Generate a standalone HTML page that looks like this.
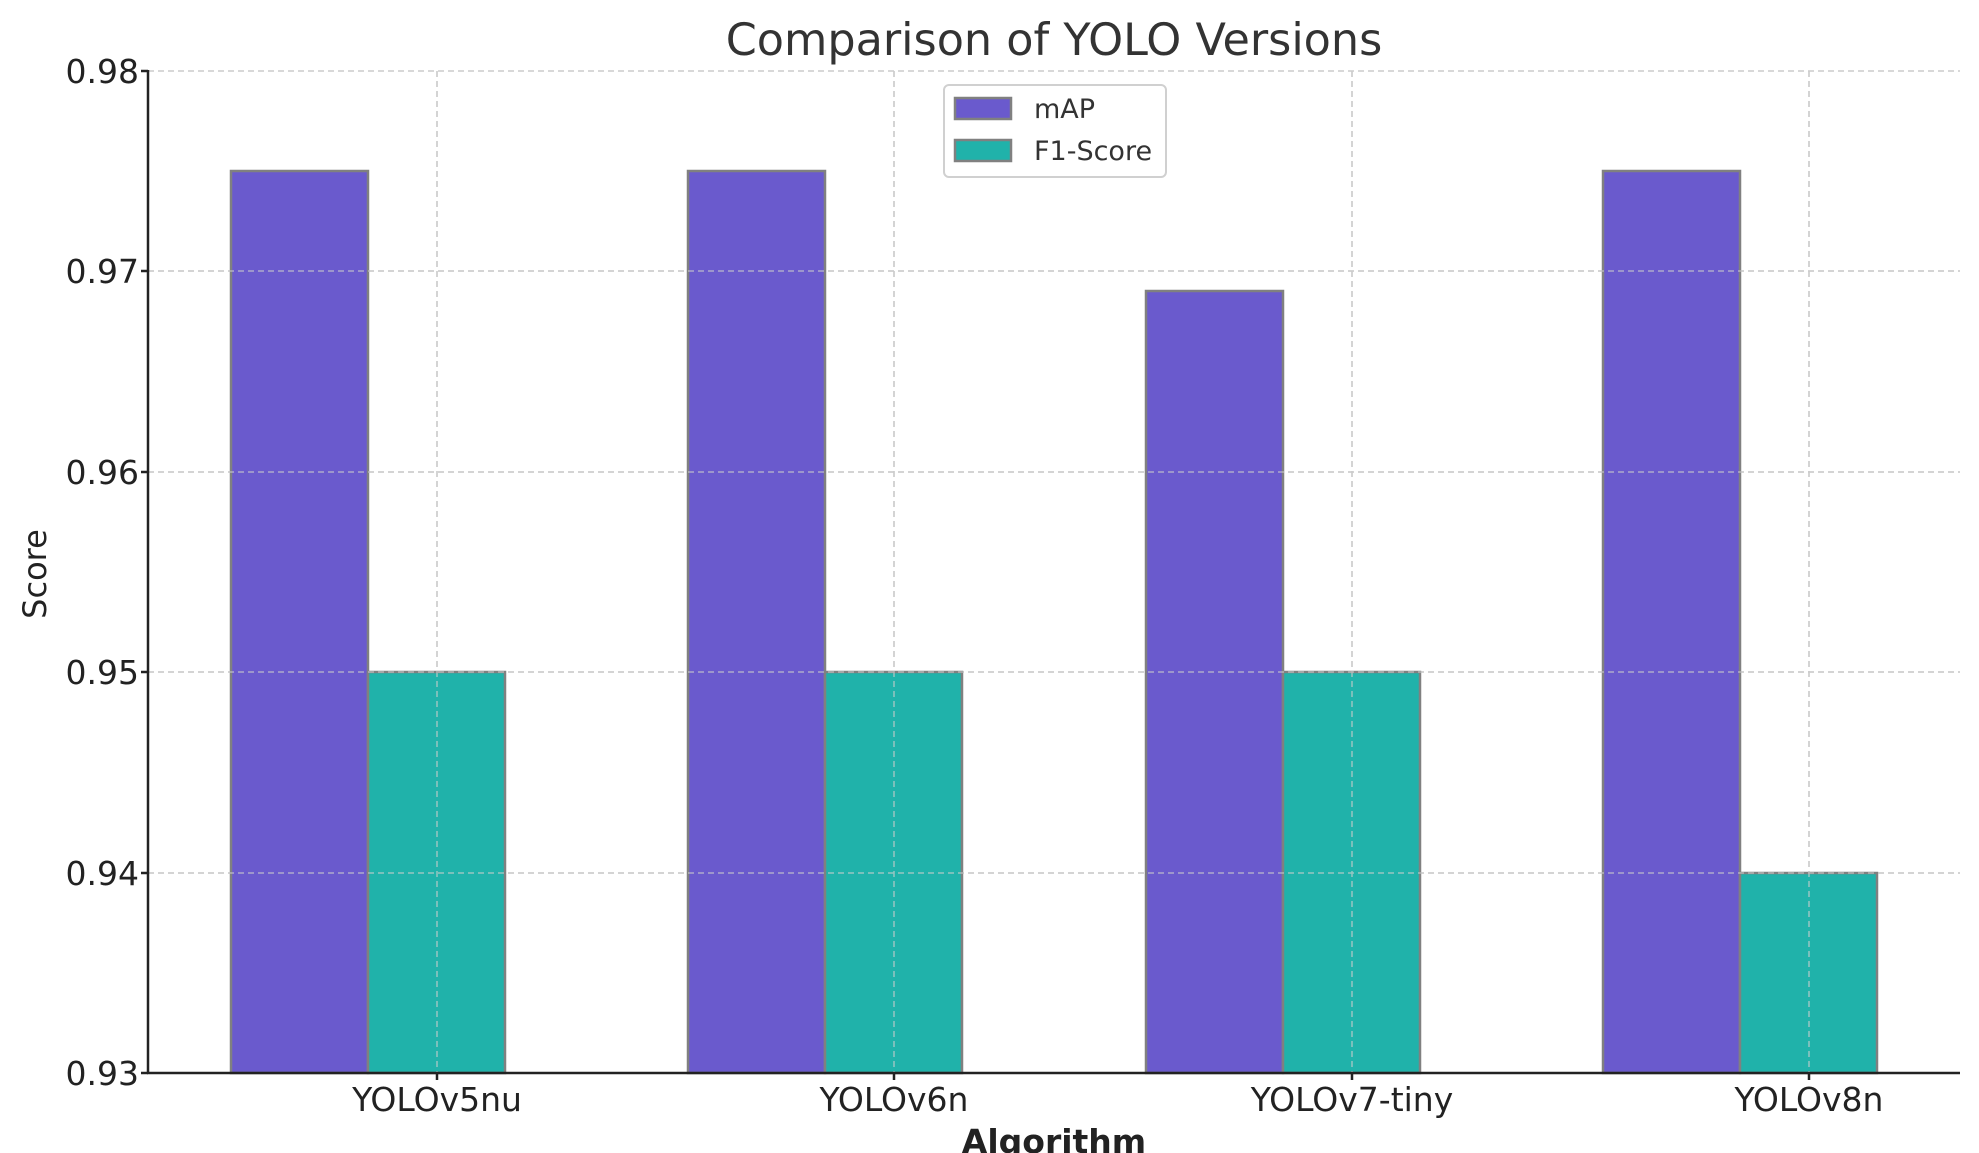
<!DOCTYPE html>
<html><head><meta charset="utf-8"><style>
html,body{margin:0;padding:0;background:#fff;}
svg{display:block;font-family:"DejaVu Sans","Liberation Sans",sans-serif;}
</style></head><body>
<svg width="1979" height="1153" viewBox="0 0 1979 1153" xmlns="http://www.w3.org/2000/svg">
<rect width="1979" height="1153" fill="#fff"/>
<g stroke="#cccccc" stroke-width="1.5" stroke-dasharray="6,4" fill="none">
<line x1="148" y1="71" x2="1960" y2="71"/>
<line x1="148" y1="271" x2="1960" y2="271"/>
<line x1="148" y1="472" x2="1960" y2="472"/>
<line x1="148" y1="672" x2="1960" y2="672"/>
<line x1="148" y1="873" x2="1960" y2="873"/>
<line x1="437" y1="71" x2="437" y2="1073"/>
<line x1="894" y1="71" x2="894" y2="1073"/>
<line x1="1352" y1="71" x2="1352" y2="1073"/>
<line x1="1809" y1="71" x2="1809" y2="1073"/>
</g>
<g stroke="#808080" stroke-width="2.5">
<rect x="231" y="171" width="137" height="902" fill="#6a5acd"/>
<rect x="368" y="672" width="137" height="401" fill="#20b2aa"/>
<rect x="688" y="171" width="137" height="902" fill="#6a5acd"/>
<rect x="825" y="672" width="137" height="401" fill="#20b2aa"/>
<rect x="1146" y="291" width="137" height="782" fill="#6a5acd"/>
<rect x="1283" y="672" width="137" height="401" fill="#20b2aa"/>
<rect x="1603" y="171" width="137" height="902" fill="#6a5acd"/>
<rect x="1740" y="873" width="137" height="200" fill="#20b2aa"/>
</g>
<g stroke="#cccccc" stroke-width="1.5" stroke-dasharray="6,4" fill="none" opacity="0.7">
<line x1="148" y1="271" x2="1960" y2="271"/>
<line x1="148" y1="472" x2="1960" y2="472"/>
<line x1="148" y1="672" x2="1960" y2="672"/>
<line x1="148" y1="873" x2="1960" y2="873"/>
<line x1="437" y1="71" x2="437" y2="1073"/>
<line x1="894" y1="71" x2="894" y2="1073"/>
<line x1="1352" y1="71" x2="1352" y2="1073"/>
<line x1="1809" y1="71" x2="1809" y2="1073"/>
</g>
<g stroke="#222" stroke-width="2.5">
<line x1="148" y1="70" x2="148" y2="1074"/>
<line x1="147" y1="1073" x2="1960" y2="1073"/>
<line x1="141" y1="71" x2="148" y2="71"/>
<line x1="141" y1="271" x2="148" y2="271"/>
<line x1="141" y1="472" x2="148" y2="472"/>
<line x1="141" y1="672" x2="148" y2="672"/>
<line x1="141" y1="873" x2="148" y2="873"/>
<line x1="141" y1="1073" x2="148" y2="1073"/>
<line x1="437" y1="1073" x2="437" y2="1080"/>
<line x1="894" y1="1073" x2="894" y2="1080"/>
<line x1="1352" y1="1073" x2="1352" y2="1080"/>
<line x1="1809" y1="1073" x2="1809" y2="1080"/>
</g>
<g fill="#222" font-size="33" text-anchor="end">
<text x="139" y="83">0.98</text>
<text x="139" y="283">0.97</text>
<text x="139" y="484">0.96</text>
<text x="139" y="684">0.95</text>
<text x="139" y="885">0.94</text>
<text x="139" y="1085">0.93</text>
</g>
<g fill="#222" font-size="33" text-anchor="middle">
<text x="437" y="1111">YOLOv5nu</text>
<text x="894" y="1111">YOLOv6n</text>
<text x="1352" y="1111">YOLOv7-tiny</text>
<text x="1809" y="1111">YOLOv8n</text>
</g>
<text x="1054" y="1153" font-size="33" font-weight="bold" fill="#222" text-anchor="middle">Algorithm</text>
<text transform="translate(46,574) rotate(-90)" font-size="32" fill="#222" text-anchor="middle">Score</text>
<text x="1054" y="55" font-size="44.5" fill="#333" text-anchor="middle">Comparison of YOLO Versions</text>
<rect x="944" y="85" width="222" height="92" rx="5" fill="#fff" stroke="#d0d0d0" stroke-width="2"/>
<rect x="955" y="98" width="56" height="21" fill="#6a5acd" stroke="#808080" stroke-width="2.5"/>
<rect x="955" y="140" width="56" height="21" fill="#20b2aa" stroke="#808080" stroke-width="2.5"/>
<text x="1034" y="118" font-size="27" fill="#333">mAP</text>
<text x="1034" y="160" font-size="27" fill="#333">F1-Score</text>
</svg>
</body></html>
